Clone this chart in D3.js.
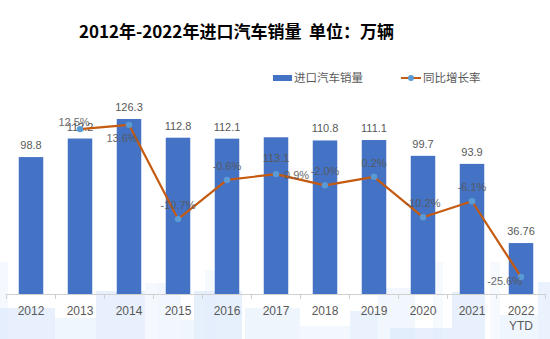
<!DOCTYPE html>
<html>
<head>
<meta charset="utf-8">
<script src="https://cdn.jsdelivr.net/npm/d3@7"></script>
<style>
  html, body { margin: 0; padding: 0; background: #fff; }
  svg { display: block; }
</style>
</head>
<body>
<svg id="chart" width="550" height="339"></svg>
<script>
// Imported car sales (10k units) and year-on-year growth (%)
const years = ["2012", "2013", "2014", "2015", "2016", "2017", "2018", "2019", "2020", "2021", "2022\nYTD"];
const sales = [98.8, 112.2, 126.3, 112.8, 112.1, 113.1, 110.8, 111.1, 99.7, 93.9, 36.76];
const growth = [null, 12.5, 13.6, -10.7, -0.6, 0.9, -2.0, 0.2, -10.2, -6.1, -25.6];
const growthLabels = ["", "12.5%", "13.6%", "-10.7%", "-0.6%", "0.9%", "-2.0%", "0.2%", "-10.2%", "-6.1%", "-25.6%"];
// where each label sits relative to its bar top / marker
const barLabelPlace = ["top", "top", "top", "top", "top", "inside", "top", "top", "top", "top", "top"];
const growthLabelPlace = ["above", "aboveLeft", "below", "above", "above", "right", "above", "above", "above", "above", "left"];

const titleText = "2012年-2022年进口汽车销量  单位：万辆";
const legendNames = ["进口汽车销量", "同比增长率"];

// faint city-skyline backdrop blocks: [x0, x1, top, tone]
const skyline = [
  [0, 8, 262, 0.35], [0, 55, 308, 0.8], [55, 96, 318, 0.5], [96, 145, 291, 0.8],
  [145, 157, 283, 0.35], [157, 181, 283, 0.45], [181, 194, 320, 0.5],
  [205, 215, 270, 0.3], [194, 242, 291, 0.85], [245, 275, 308, 0.55],
  [275, 300, 308, 0.55], [300, 350, 326, 0.4], [350, 378, 311, 0.7],
  [378, 415, 288, 0.45], [390, 452, 328, 0.8], [433, 443, 262, 0.3],
  [452, 485, 292, 0.8], [490, 500, 262, 0.3], [500, 538, 315, 0.5],
  [538, 550, 282, 0.7]
];

const svg = d3.select("#chart");
const W = 550, H = 339;
const baseY = 294, topY = 100;

const x = d3.scaleBand().domain(years).range([6.5, 545.5]).paddingInner(0.5).paddingOuter(0.25);
const yBar = d3.scaleLinear().domain([0, 140]).range([baseY, topY]);
const yPct = d3.scaleLinear().domain([-30, 20]).range([baseY, topY]);

const blue = "#4472C4", orange = "#C55A11", dot = "#5B9BD5", grey = "#595959";
const latin = "'Liberation Sans', Arial, sans-serif";
const cjk = "'Noto Sans CJK SC', 'Noto Sans', sans-serif";

// backdrop
svg.append("g").selectAll("rect").data(skyline).join("rect")
  .attr("x", d => d[0]).attr("width", d => d[1] - d[0])
  .attr("y", d => d[2]).attr("height", d => H - d[2])
  .attr("fill", "#dce9fb").attr("opacity", d => d[3] * 0.85);

// title
svg.append("text").attr("x", 236.5).attr("y", 38).attr("text-anchor", "middle")
  .attr("font-family", cjk).attr("font-weight", "bold").attr("font-size", 17)
  .attr("fill", "#000").attr("xml:space", "preserve").text(titleText);

// legend
const lg = svg.append("g").attr("font-family", cjk).attr("font-size", 11.5).attr("fill", grey);
lg.append("rect").attr("x", 273).attr("y", 75).attr("width", 19).attr("height", 6).attr("fill", blue);
lg.append("text").attr("x", 294).attr("y", 78).attr("dy", "0.35em").text(legendNames[0]);
lg.append("line").attr("x1", 401).attr("x2", 421).attr("y1", 78).attr("y2", 78)
  .attr("stroke", orange).attr("stroke-width", 2);
lg.append("circle").attr("cx", 411).attr("cy", 78).attr("r", 3).attr("fill", dot);
lg.append("text").attr("x", 423).attr("y", 78).attr("dy", "0.35em").text(legendNames[1]);

// bars
svg.append("g").selectAll("rect").data(sales).join("rect")
  .attr("x", (d, i) => x(years[i])).attr("width", x.bandwidth())
  .attr("y", d => yBar(d)).attr("height", d => baseY - yBar(d))
  .attr("fill", blue);

// x axis
const axis = d3.axisBottom(x).tickSize(0).tickFormat("");
const ax = svg.append("g").attr("transform", `translate(0,${baseY})`).call(axis);
ax.select(".domain").attr("stroke", "#d0d0d0");
const step = x.step();
ax.selectAll(".sep").data(d3.range(years.length + 1)).join("line")
  .attr("x1", i => 6.5 + i * step).attr("x2", i => 6.5 + i * step)
  .attr("y1", 0).attr("y2", 5).attr("stroke", "#d0d0d0");
const xl = svg.append("g").attr("font-family", latin).attr("font-size", 12).attr("fill", grey)
  .attr("text-anchor", "middle");
years.forEach(y => {
  const t = xl.append("text").attr("x", x(y) + x.bandwidth() / 2).attr("y", 315);
  y.split("\n").forEach((part, k) => {
    t.append("tspan").attr("x", x(y) + x.bandwidth() / 2).attr("dy", k ? 15 : 0).text(part);
  });
});

// bar value labels
svg.append("g").selectAll("text").data(sales).join("text")
  .attr("x", (d, i) => x(years[i]) + x.bandwidth() / 2)
  .attr("y", (d, i) => yBar(d) + (barLabelPlace[i] === "inside" ? 25 : -8))
  .attr("text-anchor", "middle").attr("font-family", latin).attr("font-size", 11)
  .attr("fill", grey).text(d => d);

// growth line
const pts = growth.map((g, i) => ({ g, i, label: growthLabels[i], place: growthLabelPlace[i] }))
  .filter(d => d.g !== null);
const cx = d => x(years[d.i]) + x.bandwidth() / 2;
svg.append("path").datum(pts)
  .attr("d", d3.line().x(cx).y(d => yPct(d.g)))
  .attr("fill", "none").attr("stroke", orange).attr("stroke-width", 2.2)
  .attr("stroke-linejoin", "round");
svg.append("g").selectAll("circle").data(pts).join("circle")
  .attr("cx", cx).attr("cy", d => yPct(d.g)).attr("r", 3.2).attr("fill", dot);

// growth labels
const place = {
  above: { dx: 0, dy: -10, anchor: "middle" },
  aboveLeft: { dx: -6, dy: -3, anchor: "middle" },
  below: { dx: -7, dy: 17, anchor: "middle" },
  right: { dx: 8, dy: 4.5, anchor: "start" },
  left: { dx: 1, dy: 8, anchor: "end" }
};
svg.append("g").selectAll("text").data(pts).join("text")
  .attr("x", d => cx(d) + place[d.place].dx)
  .attr("y", d => yPct(d.g) + place[d.place].dy)
  .attr("text-anchor", d => place[d.place].anchor)
  .attr("font-family", latin).attr("font-size", 11).attr("fill", grey)
  .attr("opacity", 0.9)
  .text(d => d.label);
</script>
</body>
</html>
